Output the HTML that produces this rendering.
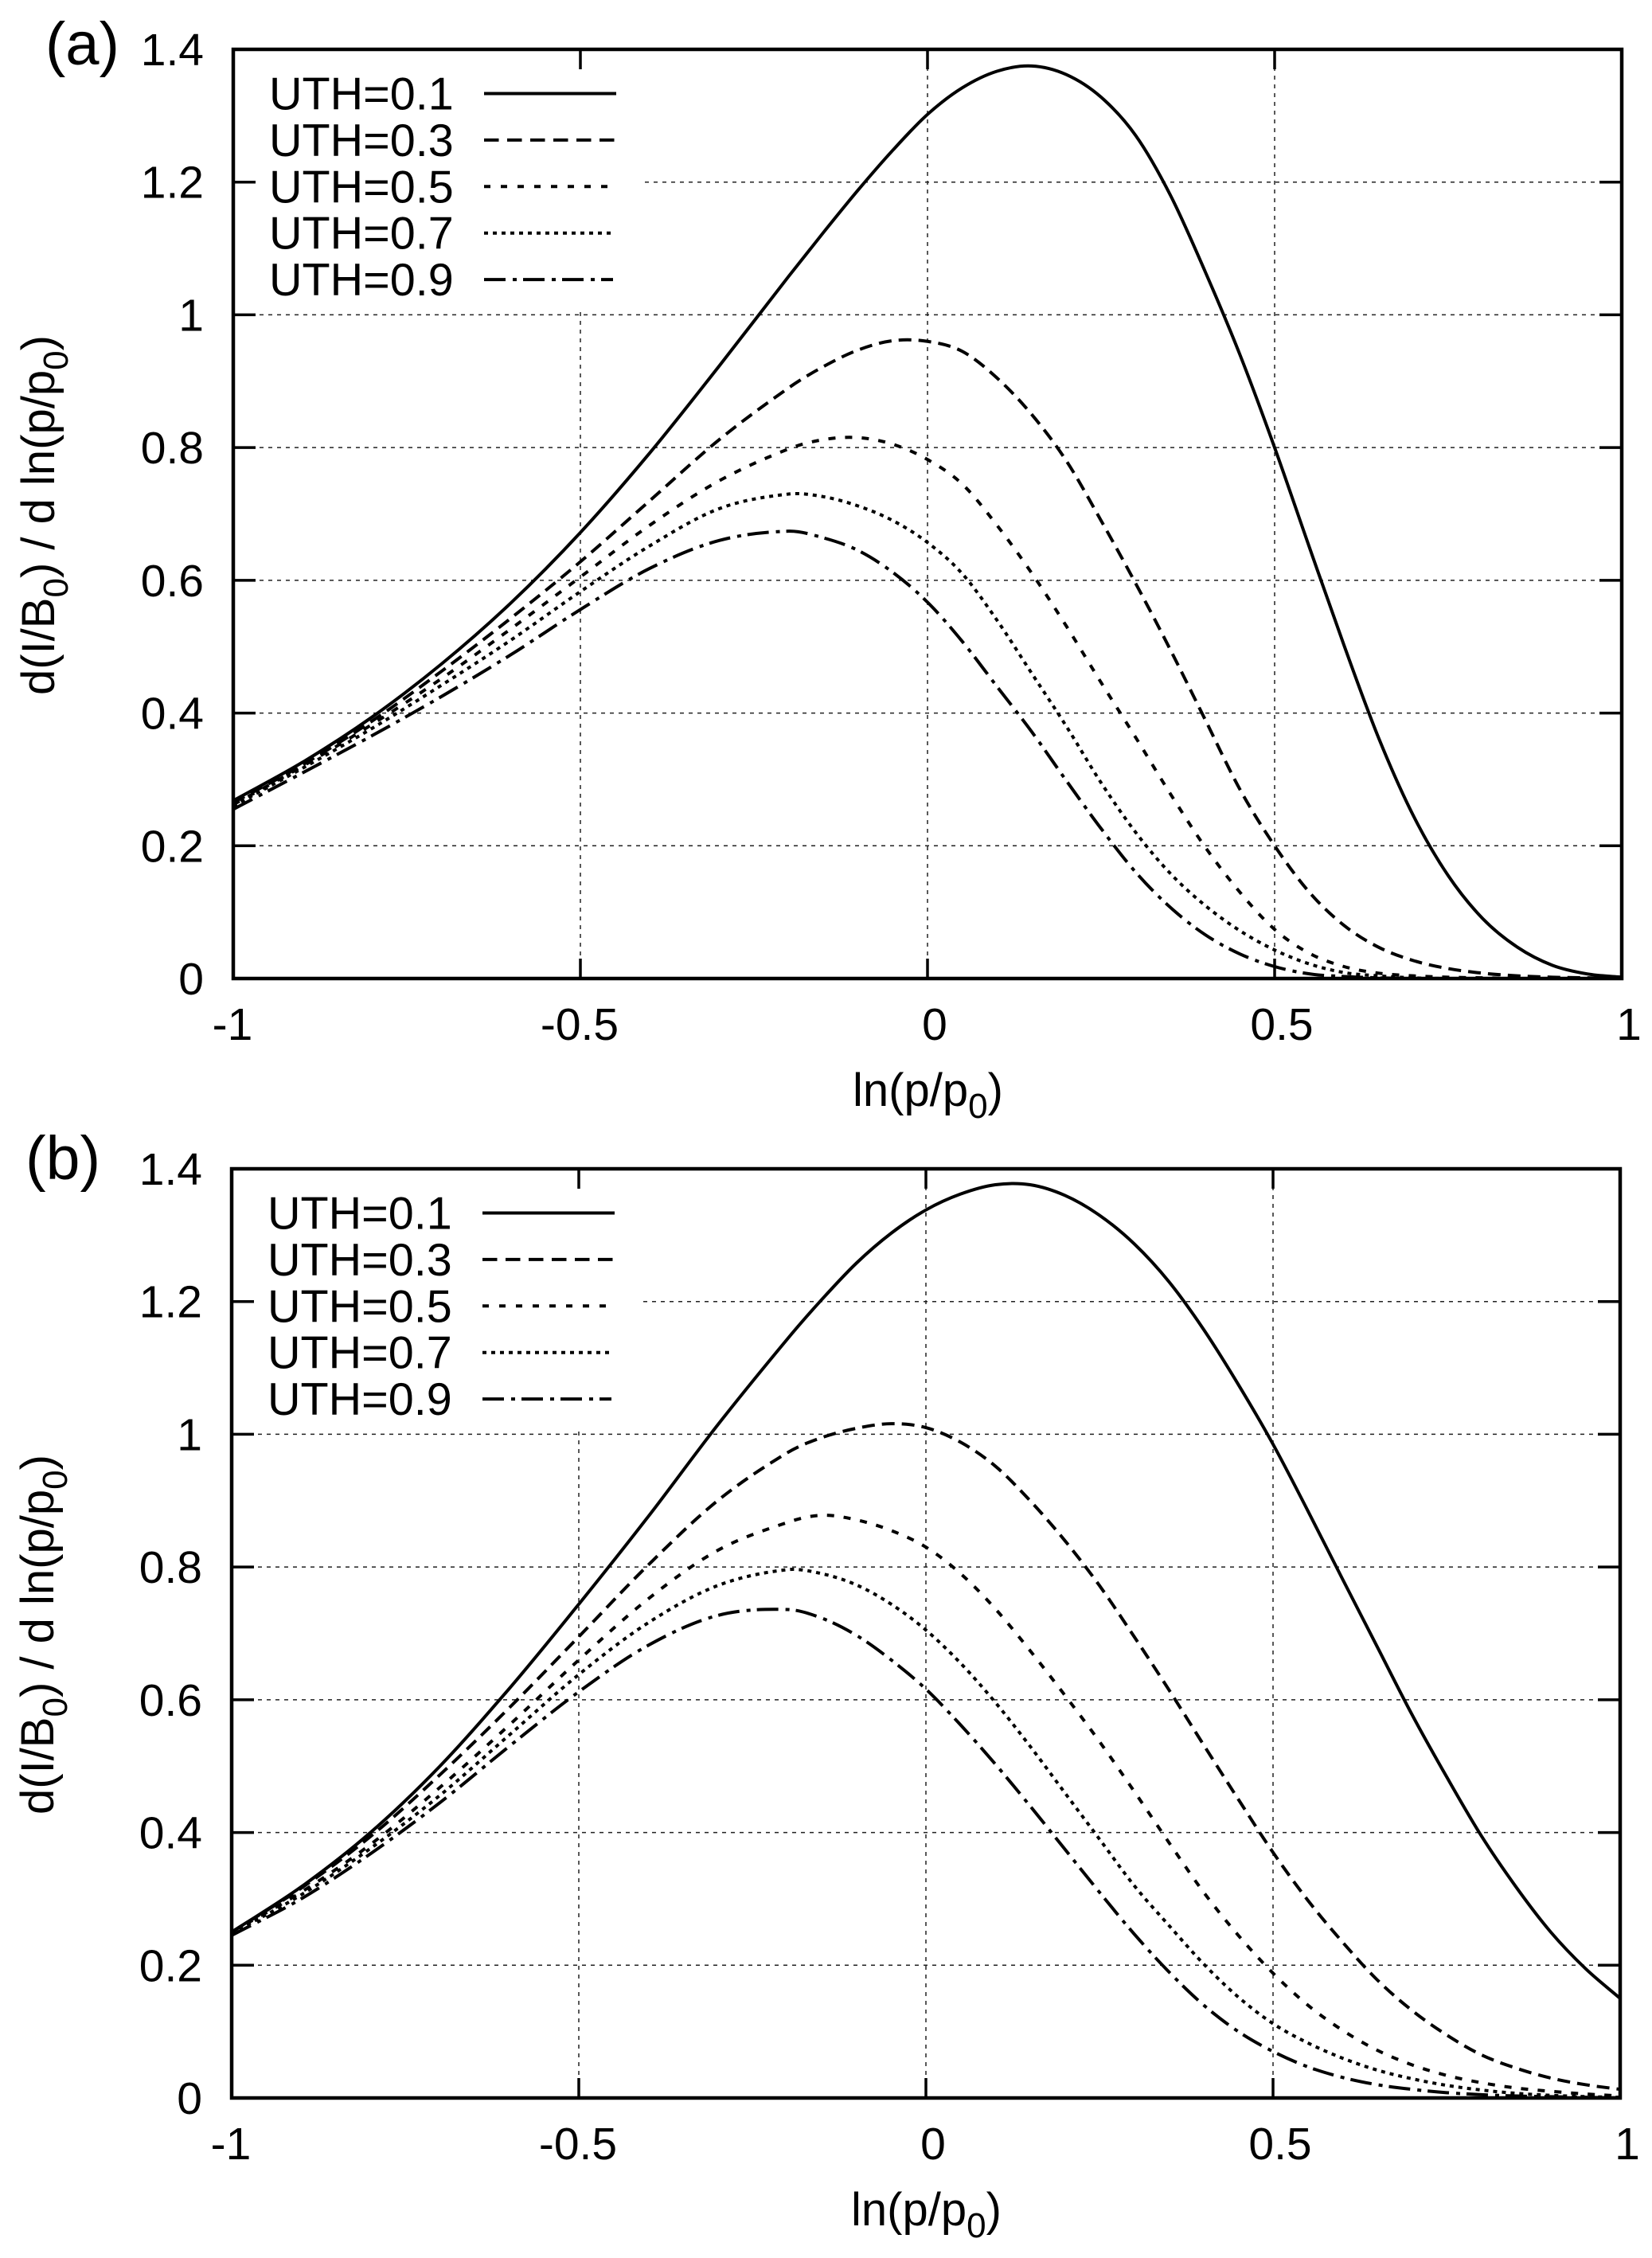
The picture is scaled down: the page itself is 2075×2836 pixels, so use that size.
<!DOCTYPE html>
<html lang="en">
<head>
<meta charset="utf-8">
<title>d(I/B0) / d ln(p/p0) for UTH values</title>
<style>
html,body{margin:0;padding:0;background:#fff;}
svg{display:block;}
text{font-family:"Liberation Sans",Arial,sans-serif;fill:#000;}
</style>
</head>
<body>
<svg id="figure" xmlns="http://www.w3.org/2000/svg" width="2075" height="2836" viewBox="0 0 2075 2836">
  <rect x="0" y="0" width="2075" height="2836" fill="#fff"/>

  <g id="panel-a"></g>
  <g id="panel-b"></g>

  <text x="57" y="81" font-size="76">(a)</text>
  <text transform="translate(68,873) rotate(-90)" font-size="58">d(I/B<tspan font-size="44" dy="17">0</tspan><tspan dy="-17">) / d ln(p/p</tspan><tspan font-size="44" dy="17">0</tspan><tspan dy="-17">)</tspan></text>
  <text x="1071" y="1389" font-size="58">ln(p/p<tspan font-size="44" dy="15">0</tspan><tspan dy="-15">)</tspan></text>

  <text x="32" y="1481" font-size="77">(b)</text>
  <text transform="translate(67,2279) rotate(-90)" font-size="58">d(I/B<tspan font-size="44" dy="17">0</tspan><tspan dy="-17">) / d ln(p/p</tspan><tspan font-size="44" dy="17">0</tspan><tspan dy="-17">)</tspan></text>
  <text x="1069" y="2795" font-size="58">ln(p/p<tspan font-size="44" dy="15">0</tspan><tspan dy="-15">)</tspan></text>
</svg>

<script>
// Shared x samples and tick labels
const xSamples = [-1,-0.9,-0.8,-0.7,-0.6,-0.5,-0.4,-0.3,-0.2,-0.15,-0.1,-0.05,0,0.05,0.1,0.15,0.2,0.25,0.3,0.35,0.4,0.45,0.5,0.55,0.6,0.65,0.7,0.75,0.8,0.85,0.9,0.95,1];
const xTicks = [-1,-0.5,0,0.5,1];
const xTickLabels = ["-1","-0.5","0","0.5","1"];
const yTicks = [0,0.2,0.4,0.6,0.8,1,1.2,1.4];
const yTickLabels = ["0","0.2","0.4","0.6","0.8","1","1.2","1.4"];
const seriesNames = ["UTH=0.1","UTH=0.3","UTH=0.5","UTH=0.7","UTH=0.9"];

// Panel (a) values
const a_uth01 = [0.268,0.326,0.394,0.474,0.566,0.672,0.792,0.923,1.058,1.124,1.188,1.248,1.302,1.342,1.367,1.375,1.362,1.328,1.27,1.18,1.065,0.94,0.80,0.65,0.502,0.362,0.245,0.155,0.09,0.047,0.02,0.007,0.002];
const a_uth03 = [0.265,0.322,0.388,0.463,0.543,0.628,0.72,0.812,0.89,0.922,0.947,0.961,0.96,0.945,0.905,0.85,0.78,0.69,0.595,0.495,0.39,0.285,0.2,0.13,0.08,0.047,0.027,0.015,0.008,0.004,0.002,0.001,0];
const a_uth05 = [0.262,0.32,0.383,0.452,0.527,0.605,0.683,0.75,0.798,0.812,0.815,0.805,0.782,0.745,0.683,0.611,0.531,0.446,0.363,0.278,0.198,0.13,0.074,0.038,0.018,0.008,0.004,0.002,0.001,0,0,0,0];
const a_uth07 = [0.26,0.317,0.377,0.442,0.51,0.583,0.652,0.708,0.73,0.726,0.712,0.69,0.657,0.61,0.54,0.46,0.38,0.295,0.22,0.158,0.11,0.072,0.043,0.022,0.009,0.004,0.001,0,0,0,0,0,0];
const a_uth09 = [0.255,0.31,0.366,0.425,0.488,0.556,0.618,0.66,0.674,0.664,0.645,0.612,0.567,0.508,0.44,0.372,0.298,0.226,0.16,0.107,0.066,0.037,0.018,0.007,0.003,0.001,0,0,0,0,0,0,0];

// Panel (b) values
const b_uth01 = [0.25,0.318,0.40,0.50,0.617,0.744,0.876,1.014,1.143,1.203,1.258,1.303,1.338,1.362,1.376,1.376,1.36,1.33,1.287,1.23,1.158,1.075,0.985,0.885,0.782,0.68,0.578,0.484,0.395,0.318,0.25,0.195,0.15];
const b_uth03 = [0.25,0.316,0.394,0.487,0.588,0.695,0.803,0.9,0.972,0.995,1.009,1.016,1.01,0.988,0.952,0.90,0.84,0.772,0.695,0.615,0.532,0.45,0.37,0.298,0.235,0.178,0.132,0.095,0.065,0.045,0.03,0.02,0.013];
const b_uth05 = [0.25,0.31,0.382,0.468,0.562,0.66,0.752,0.825,0.867,0.878,0.871,0.855,0.83,0.79,0.737,0.674,0.607,0.537,0.462,0.385,0.31,0.245,0.188,0.14,0.102,0.072,0.05,0.034,0.023,0.015,0.01,0.006,0.003];
const b_uth07 = [0.248,0.306,0.376,0.456,0.547,0.638,0.716,0.772,0.796,0.79,0.773,0.744,0.705,0.655,0.596,0.53,0.46,0.39,0.32,0.26,0.202,0.152,0.112,0.083,0.06,0.042,0.029,0.019,0.012,0.007,0.004,0.002,0.001];
const b_uth09 = [0.245,0.30,0.368,0.445,0.53,0.612,0.682,0.727,0.736,0.723,0.697,0.66,0.616,0.562,0.503,0.44,0.375,0.31,0.247,0.19,0.14,0.10,0.07,0.047,0.031,0.02,0.013,0.008,0.005,0.003,0.002,0.001,0];

const panelASeries = [a_uth01,a_uth03,a_uth05,a_uth07,a_uth09];
const panelBSeries = [b_uth01,b_uth03,b_uth05,b_uth07,b_uth09];

const curveDash = ["none","16 9","9 12","5 6","27 9 5 8"];
const legendDash = ["none","18.5 10.5","8 13","5 6","27 9 5 8"];
const legendLineEnd = [774,774,763,769,770];

const SVGNS = "http://www.w3.org/2000/svg";
const xMin = -1, xMax = 1, yMin = 0, yMax = 1.4;

function make(tag, attrs, parent) {
  const el = document.createElementNS(SVGNS, tag);
  for (const k in attrs) el.setAttribute(k, attrs[k]);
  parent.appendChild(el);
  return el;
}

function smoothPath(xs, ys, sx, sy) {
  const px = xs.map(sx), py = ys.map(sy), n = px.length;
  const slope = i => {
    const a = Math.max(0, i - 1), b = Math.min(n - 1, i + 1);
    return (py[b] - py[a]) / (px[b] - px[a]);
  };
  let d = "M" + px[0].toFixed(2) + " " + py[0].toFixed(2);
  for (let i = 0; i < n - 1; i++) {
    const h = px[i + 1] - px[i];
    const c1x = px[i] + h / 3, c1y = py[i] + slope(i) * h / 3;
    const c2x = px[i + 1] - h / 3, c2y = py[i + 1] - slope(i + 1) * h / 3;
    d += "C" + c1x.toFixed(2) + " " + c1y.toFixed(2) + " " + c2x.toFixed(2) + " " + c2y.toFixed(2) + " " + px[i + 1].toFixed(2) + " " + py[i + 1].toFixed(2);
  }
  return d;
}

function drawPanel(group, prefix, seriesList, dx, dy) {
  const left = 293 + dx, right = 2037 + dx, top = 62 + dy, bottom = 1229 + dy;
  const sx = v => left + (v - xMin) / (xMax - xMin) * (right - left);
  const sy = v => bottom - (v - yMin) / (yMax - yMin) * (bottom - top);

  // grid
  yTicks.forEach(t => {
    if (t === yMin || t === yMax) return;
    const g = make("line", {x1: left, x2: right, y1: sy(t), y2: sy(t), stroke: "#222", "stroke-width": 1.5, "stroke-dasharray": "5 6"}, group);
    
    
  });
  xTicks.forEach(t => {
    if (t === xMin || t === xMax) return;
    const g = make("line", {x1: sx(t), x2: sx(t), y1: top, y2: bottom, stroke: "#222", "stroke-width": 1.5, "stroke-dasharray": "5 6"}, group);
    
    
  });

  // legend background
  const box = make("rect", {x: left + 3, y: top + 2, width: 513, height: 323, fill: "#fff"}, group);
  
  

  // ticks + tick labels
  yTicks.forEach((t, i) => {
    if (t !== yMin && t !== yMax) {
      const l = make("line", {x1: left, x2: left + 28, y1: sy(t), y2: sy(t), stroke: "#000", "stroke-width": 3.5}, group);
      
      
      const r = make("line", {x1: right - 28, x2: right, y1: sy(t), y2: sy(t), stroke: "#000", "stroke-width": 3.5}, group);
      
      
    }
    const label = make("text", {x: left - 37, y: sy(t) + 20, "font-size": 57, "text-anchor": "end"}, group);
    label.textContent = yTickLabels[i];
    
    
  });
  xTicks.forEach((t, i) => {
    if (t !== xMin && t !== xMax) {
      const b = make("line", {x1: sx(t), x2: sx(t), y1: bottom, y2: bottom - 25, stroke: "#000", "stroke-width": 3.5}, group);
      
      
      const u = make("line", {x1: sx(t), x2: sx(t), y1: top, y2: top + 25, stroke: "#000", "stroke-width": 3.5}, group);
      
      
    }
    const label = make("text", {x: sx(t) + (t < 0 ? -1 : 9), y: bottom + 77, "font-size": 57, "text-anchor": "middle"}, group);
    label.textContent = xTickLabels[i];
    
    
  });

  // frame
  const frame = make("rect", {x: left, y: top, width: right - left, height: bottom - top, fill: "none", stroke: "#000", "stroke-width": 4.5}, group);
  
  

  // curves
  seriesList.forEach((vals, i) => {
    const attrs = {d: smoothPath(xSamples, vals, sx, sy), fill: "none", stroke: "#000", "stroke-width": 4, "stroke-linejoin": "round"};
    if (curveDash[i] !== "none") attrs["stroke-dasharray"] = curveDash[i];
    const p = make("path", attrs, group);
    
    
  });

  // legend
  seriesNames.forEach((name, i) => {
    const rowY = 117.5 + i * 58.4 + dy;
    const t = make("text", {x: 338 + dx, y: rowY + 20, "font-size": 57.5}, group);
    t.textContent = name;
    
    
    const attrs = {x1: 608 + dx, x2: legendLineEnd[i] + dx, y1: rowY, y2: rowY, stroke: "#000", "stroke-width": 4};
    if (legendDash[i] !== "none") attrs["stroke-dasharray"] = legendDash[i];
    const s = make("line", attrs, group);
    
    
  });
}

drawPanel(document.getElementById("panel-a"), "panel-a", panelASeries, 0, 0);
drawPanel(document.getElementById("panel-b"), "panel-b", panelBSeries, -2, 1406);
</script>
</body>
</html>
